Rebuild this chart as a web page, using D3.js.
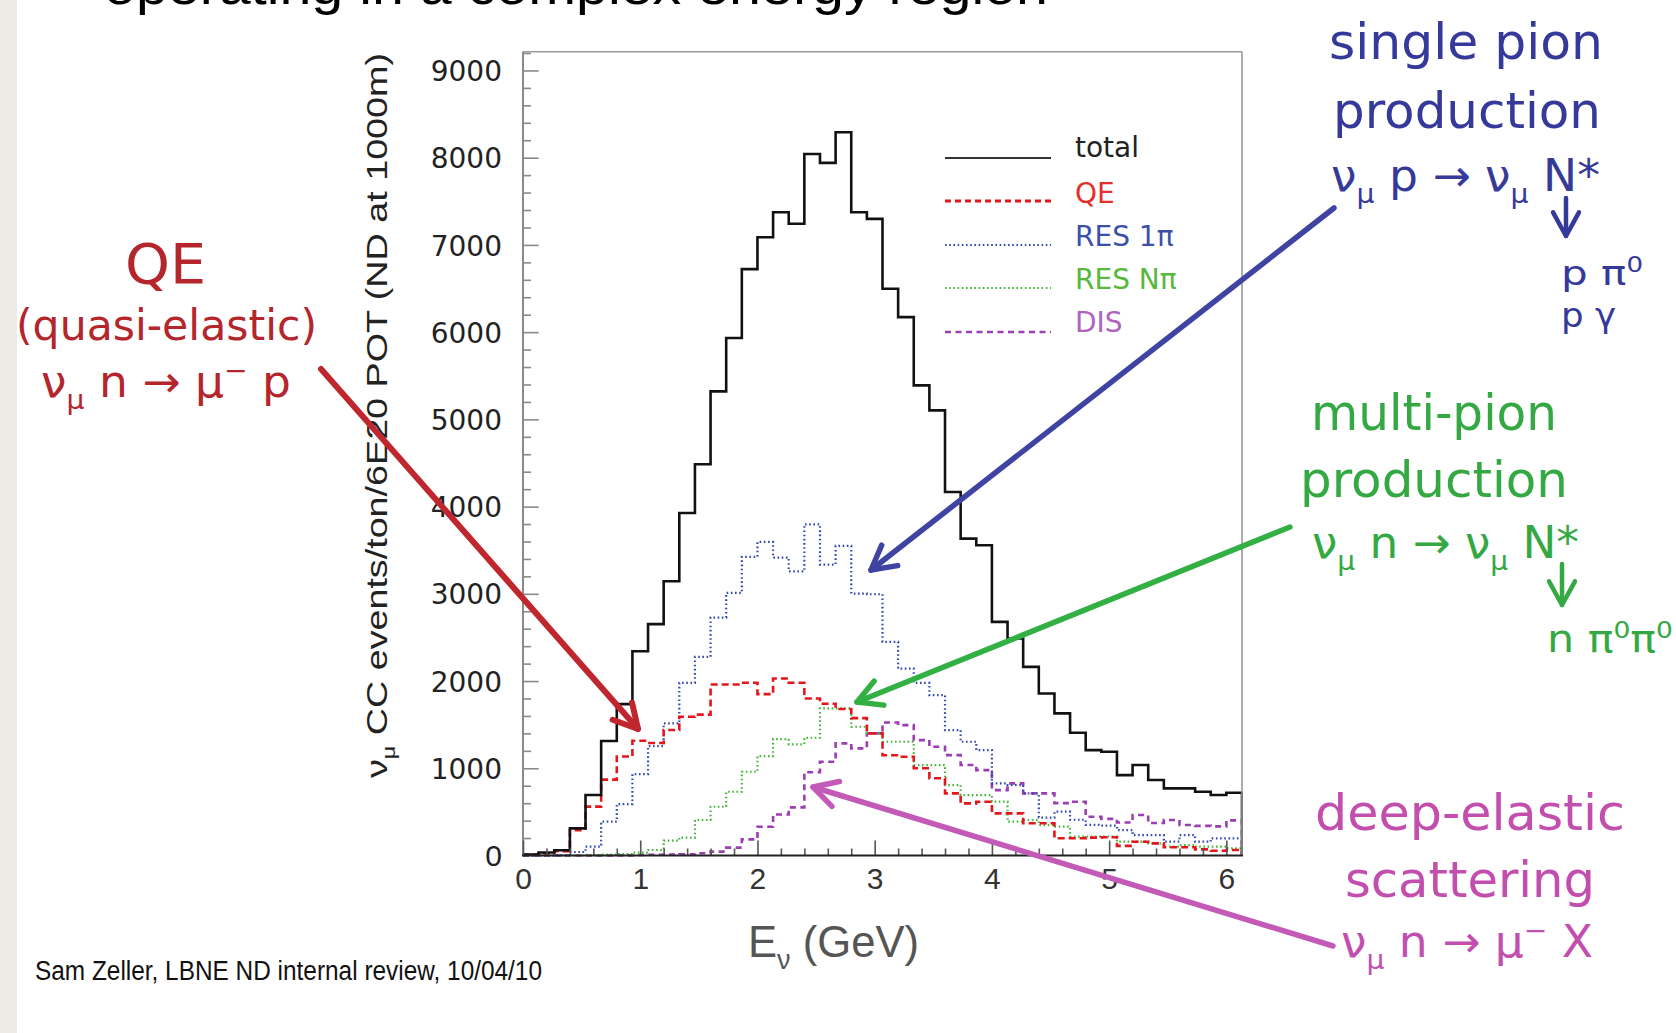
<!DOCTYPE html>
<html><head><meta charset="utf-8">
<script src="https://cdn.jsdelivr.net/npm/d3@7/dist/d3.min.js"></script>
<style>
html,body{margin:0;padding:0;background:#fff;}
svg{display:block;}
</style></head>
<body>
<svg id="chart" width="1676" height="1033"></svg>
<script>
// ---------- data (46 bins of 2/15 GeV from 0 to 6.133 GeV) ----------
const binWidth = 2 / 15;
const nBins = 46;
const totalEvents = [10, 35, 60, 311, 693, 1312, 1735, 2342, 2652, 3144, 3927, 4485,
  5321, 5932, 6722, 7088, 7375, 7242, 8043, 7940, 8291, 7375, 7299, 6497, 6172, 5390, 5103,
  4168, 3633, 3557, 2678, 2488, 2163, 1858, 1629, 1407, 1208, 1189, 922, 1037, 865, 770, 770, 731, 693, 720];
const qeEvents = [12, 25, 50, 290, 560, 870, 1135, 1315, 1290, 1438, 1590, 1615,
  1960, 1960, 1980, 1850, 2030, 1980, 1800, 1740, 1680, 1575, 1400, 1150, 1132, 1000, 885,
  712, 598, 617, 483, 483, 369, 369, 197, 197, 205, 210, 110, 158, 139, 95, 95, 70, 55, 63];
const res1piEvents = [0, 0, 5, 40, 101, 388, 590, 934, 1254, 1514, 1980, 2277,
  2728, 3010, 3423, 3595, 3415, 3258, 3797, 3335, 3549, 3003, 2995, 2449, 2143, 1980, 1838,
  1438, 1304, 1208, 826, 807, 712, 435, 502, 410, 350, 342, 292, 233, 233, 158, 233, 158, 197, 197];
const resNpiEvents = [0, 0, 0, 0, 5, 10, 15, 32, 63, 170, 205, 407,
  559, 731, 960, 1140, 1335, 1275, 1350, 1686, 1686, 1476, 1400, 1304, 1304, 1037, 1037,
  807, 693, 693, 617, 388, 407, 349, 330, 216, 216, 216, 158, 158, 139, 101, 120, 101, 101, 82];
const disEvents = [0, 0, 0, 0, 0, 0, 2, 5, 8, 10, 15, 25,
  44, 90, 185, 330, 470, 552, 955, 1075, 1285, 1228, 1400, 1525, 1495, 1323, 1247,
  1151, 1037, 979, 750, 827, 712, 712, 600, 617, 445, 420, 378, 464, 372, 407, 349, 340, 334, 403];
const xTickValues = [0, 1, 2, 3, 4, 5, 6];
const yTickValues = [1000, 2000, 3000, 4000, 5000, 6000, 7000, 8000, 9000];
const legendLabels = ["total", "QE", "RES 1π", "RES Nπ", "DIS"];

// ---------- styles ----------
const seriesStyle = {
  total: {color: "#111", width: 2.6, dash: null},
  qe:    {color: "#e3161c", width: 2.6, dash: "7,4"},
  res1:  {color: "#3048b0", width: 2.2, dash: "1.6,2.6"},
  resN:  {color: "#45b53a", width: 2.2, dash: "1.6,2.6"},
  dis:   {color: "#9b3db3", width: 2.6, dash: "6,4.5"}
};

const svg = d3.select("#chart");
svg.append("rect").attr("width", 1676).attr("height", 1033).attr("fill", "#fff");
svg.append("rect").attr("width", 17).attr("height", 1033).attr("fill", "#ebeae5");

// title (cut off at top, as on the slide)
svg.append("text").attr("x", 104).attr("y", 4)
  .attr("font-family", "Liberation Sans, Arial, sans-serif").attr("font-size", 52)
  .attr("textLength", 944).attr("lengthAdjust", "spacingAndGlyphs")
  .attr("fill", "#000").text("operating in a complex energy region");

// ---------- scales ----------
const xMax = nBins * binWidth;
const x = d3.scaleLinear().domain([0, xMax]).range([523, 1242]);
const y = d3.scaleLinear().domain([0, 9215]).range([855.5, 51.7]);

// ---------- histograms ----------
function histPoints(vals) {
  const pts = [[0, 0]];
  vals.forEach((v, i) => { pts.push([i * binWidth, v]); pts.push([(i + 1) * binWidth, v]); });
  pts.push([xMax, 0]);
  return pts;
}
const line = d3.line().x(d => x(d[0])).y(d => y(d[1]));
svg.append("clipPath").attr("id", "plotclip").append("rect")
  .attr("x", 523).attr("y", 51).attr("width", 720).attr("height", 806);
const plot = svg.append("g").attr("clip-path", "url(#plotclip)");
const seriesList = [
  [disEvents, seriesStyle.dis],
  [resNpiEvents, seriesStyle.resN],
  [res1piEvents, seriesStyle.res1],
  [qeEvents, seriesStyle.qe],
  [totalEvents, seriesStyle.total]
];
seriesList.forEach(([vals, st]) => {
  plot.append("path").attr("d", line(histPoints(vals)))
    .attr("fill", "none").attr("stroke", st.color).attr("stroke-width", st.width)
    .attr("stroke-dasharray", st.dash).attr("stroke-linejoin", "miter");
});

// ---------- frame & axes ----------
svg.append("line").attr("x1", 523).attr("x2", 1242).attr("y1", 51.7).attr("y2", 51.7)
  .attr("stroke", "#9a9a9a").attr("stroke-width", 1.6);
svg.append("line").attr("x1", 1242).attr("x2", 1242).attr("y1", 51.7).attr("y2", 856)
  .attr("stroke", "#9a9a9a").attr("stroke-width", 1.6);
svg.append("line").attr("x1", 523).attr("x2", 523).attr("y1", 51.7).attr("y2", 856)
  .attr("stroke", "#8a8a8a").attr("stroke-width", 2);

// y minor ticks
const yMinor = d3.range(200, 9201, 200).filter(v => v % 1000 !== 0);
const yMinorAxis = d3.axisLeft(y).tickValues(yMinor).tickSize(-8).tickFormat("");
const gyMinor = svg.append("g").attr("transform", "translate(523,0)").call(yMinorAxis);
gyMinor.select(".domain").remove();
gyMinor.selectAll("line").attr("stroke", "#8a8a8a").attr("stroke-width", 1.6);

const yAxis = d3.axisLeft(y).tickValues(yTickValues).tickSize(-15.7).tickPadding(21)
  .tickFormat(d3.format("d"));
const gy = svg.append("g").attr("transform", "translate(523,0)").call(yAxis);
gy.select(".domain").remove();
gy.selectAll("line").attr("stroke", "#8a8a8a").attr("stroke-width", 1.6);
gy.selectAll("text").attr("font-family", "DejaVu Sans, sans-serif").attr("font-size", 28)
  .attr("fill", "#222").attr("dy", "0.36em");
svg.append("text").attr("x", 502).attr("y", 866).attr("text-anchor", "end")
  .attr("font-family", "Liberation Sans, Arial, sans-serif").attr("font-size", 30)
  .attr("fill", "#222").text("0");

// x axis
const xMinor = d3.range(0.2, 6.01, 0.2).filter(v => Math.abs(v - Math.round(v)) > 0.01);
const xMinorAxis = d3.axisBottom(x).tickValues(xMinor).tickSize(-7).tickFormat("");
const gxMinor = svg.append("g").attr("transform", "translate(0,855.5)").call(xMinorAxis);
gxMinor.select(".domain").remove();
gxMinor.selectAll("line").attr("stroke", "#555").attr("stroke-width", 1.6);
const xAxis = d3.axisBottom(x).tickValues(xTickValues).tickSize(-15).tickPadding(12)
  .tickFormat(d3.format("d"));
const gx = svg.append("g").attr("transform", "translate(0,855.5)").call(xAxis);
gx.select(".domain").remove();
gx.selectAll("line").attr("stroke", "#555").attr("stroke-width", 1.6);
gx.selectAll("text").attr("font-family", "Liberation Sans, Arial, sans-serif")
  .attr("font-size", 30).attr("fill", "#333");
svg.append("line").attr("x1", 522).attr("x2", 1243).attr("y1", 855.5).attr("y2", 855.5)
  .attr("stroke", "#222").attr("stroke-width", 2.2);

// rich text helper (sub/superscripts)
function rich(g, xp, yp, parts, o) {
  const t = g.append("text").attr("x", xp).attr("y", yp)
    .attr("font-family", o.family || "Liberation Sans, Arial, sans-serif")
    .attr("font-size", o.size).attr("fill", o.color);
  if (o.width) t.attr("textLength", o.width).attr("lengthAdjust", "spacingAndGlyphs");
  if (o.transform) t.attr("transform", o.transform);
  if (o.anchor) t.attr("text-anchor", o.anchor);
  let shift = 0;
  parts.forEach(p => {
    const s = typeof p === "string" ? {t: p} : p;
    const ts = t.append("tspan").text(s.t);
    let target = 0;
    if (s.sub) target = o.size * 0.28;
    if (s.sup) target = -o.size * 0.38;
    if (target !== shift) { ts.attr("dy", target - shift); shift = target; }
    if (s.sub || s.sup) ts.attr("font-size", o.size * 0.62);
  });
  return t;
}

// axis titles
rich(svg, 0, 0, ["ν", {t: "μ", sub: true}, " CC events/ton/6E20 POT (ND at 1000m)"],
  {size: 29, color: "#222", width: 725, transform: "translate(387,778) rotate(-90)"});
rich(svg, 748, 957, ["E", {t: "ν", sub: true}, " (GeV)"], {size: 44, color: "#555", width: 171});
svg.append("text").attr("x", 35).attr("y", 980)
  .attr("font-family", "Liberation Sans, Arial, sans-serif").attr("font-size", 27)
  .attr("textLength", 507).attr("lengthAdjust", "spacingAndGlyphs").attr("fill", "#111")
  .text("Sam Zeller, LBNE ND internal review,  10/04/10");

// ---------- legend ----------
const legendStyles = [seriesStyle.total, seriesStyle.qe, seriesStyle.res1, seriesStyle.resN, seriesStyle.dis];
const legendTextColors = ["#222", "#e3302a", "#3a50aa", "#58b83a", "#b064c0"];
const legendLineY = [158, 201, 245, 288, 332];
const legendTextY = [157, 203, 246, 289, 332];
legendLabels.forEach((lab, i) => {
  const st = legendStyles[i];
  svg.append("line").attr("x1", 945).attr("x2", 1051).attr("y1", legendLineY[i]).attr("y2", legendLineY[i])
    .attr("stroke", i === 0 ? "#333" : st.color).attr("stroke-width", i === 0 ? 2 : (i === 1 ? 3 : st.width))
    .attr("stroke-dasharray", i === 1 ? "6,4" : (i === 4 ? "6,4.5" : st.dash));
  svg.append("text").attr("x", 1075).attr("y", legendTextY[i])
    .attr("font-family", "DejaVu Sans, sans-serif").attr("font-size", 28)
    .attr("fill", legendTextColors[i]).text(lab);
});

// ---------- annotations ----------
function arrow(x1, y1, x2, y2, color, w) {
  const ang = Math.atan2(y1 - y2, x1 - x2);
  const len = 27, spread = 0.5;
  const g = svg.append("g").attr("stroke", color).attr("stroke-width", w)
    .attr("stroke-linecap", "round").attr("fill", "none");
  g.append("line").attr("x1", x1).attr("y1", y1).attr("x2", x2).attr("y2", y2);
  g.append("path").attr("stroke-linejoin", "round").attr("d",
    `M${x2 + len * Math.cos(ang + spread)},${y2 + len * Math.sin(ang + spread)} L${x2},${y2} L${x2 + len * Math.cos(ang - spread)},${y2 + len * Math.sin(ang - spread)}`);
}
const RED = "#b4262b", BLUE = "#35399a", GREEN = "#34a943", MAG = "#c24fae";
const fam = "DejaVu Sans, sans-serif";

// QE
rich(svg, 125, 283, ["QE"], {size: 56, color: RED, width: 81, family: fam});
rich(svg, 16, 340, ["(quasi-elastic)"], {size: 43, color: RED, width: 301, family: fam});
rich(svg, 41, 397, ["ν", {t: "μ", sub: true}, " n → μ", {t: "−", sup: true}, "  p"], {size: 44, color: RED, width: 250, family: fam});
arrow(321, 369, 638, 729, "#c0262d", 6);

// single pion
rich(svg, 1329, 59, ["single pion"], {size: 50, color: BLUE, width: 274, family: fam});
rich(svg, 1333, 128, ["production"], {size: 50, color: BLUE, width: 268, family: fam});
rich(svg, 1331, 191, ["ν", {t: "μ", sub: true}, " p → ν", {t: "μ", sub: true}, " N*"], {size: 44, color: BLUE, width: 269, family: fam});
arrow(1566, 198, 1566, 236, BLUE, 4.5);
rich(svg, 1561, 285, ["p π", {t: "0", sup: true}], {size: 33, color: BLUE, width: 82, family: fam});
rich(svg, 1561, 327, ["p γ"], {size: 33, color: BLUE, width: 55, family: fam});
arrow(1334, 208, 871, 570, "#3f43a2", 5.5);

// multi-pion
rich(svg, 1311, 430, ["multi-pion"], {size: 50, color: GREEN, width: 246, family: fam});
rich(svg, 1300, 497, ["production"], {size: 50, color: GREEN, width: 268, family: fam});
rich(svg, 1312, 558, ["ν", {t: "μ", sub: true}, " n → ν", {t: "μ", sub: true}, " N*"], {size: 44, color: GREEN, width: 267, family: fam});
arrow(1562, 564, 1562, 605, GREEN, 4.5);
rich(svg, 1547, 652, ["n π", {t: "0", sup: true}, "π", {t: "0", sup: true}], {size: 38, color: GREEN, width: 126, family: fam});
arrow(1290, 527, 857, 702, "#33b043", 5.5);

// DIS
rich(svg, 1315, 830, ["deep-elastic"], {size: 50, color: MAG, width: 310, family: fam});
rich(svg, 1345, 897, ["scattering"], {size: 50, color: MAG, width: 250, family: fam});
rich(svg, 1341, 957, ["ν", {t: "μ", sub: true}, " n → μ", {t: "−", sup: true}, " X"], {size: 44, color: MAG, width: 252, family: fam});
arrow(1333, 946, 813, 787, "#c45ab8", 5.5);
</script>
</body></html>
